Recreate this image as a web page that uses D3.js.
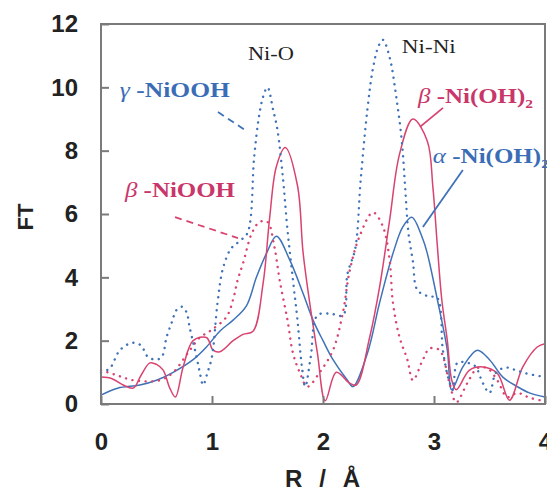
<!DOCTYPE html>
<html>
<head>
<meta charset="utf-8">
<script src="https://d3js.org/d3.v7.min.js"></script>
<style>
  body { margin: 0; background: #fff; }
  .tick text { font-family: "Liberation Sans", Arial, sans-serif; font-weight: bold; font-size: 24px; fill: #222; }
  .lbl { font-family: "Liberation Serif", "Times New Roman", serif; font-weight: bold; font-size: 21px; }
</style>
</head>
<body>
<div id="chart"></div>
<script>
// gamma-NiOOH (blue, dotted)
var gammaR  = [0, 0.08, 0.17, 0.28, 0.36, 0.42, 0.5, 0.55, 0.59, 0.64, 0.68, 0.73, 0.77, 0.8, 0.86, 0.89, 0.92, 0.96, 1.0, 1.05, 1.1, 1.17, 1.25, 1.32, 1.38, 1.42, 1.46, 1.5, 1.55, 1.59, 1.64, 1.68, 1.73, 1.77, 1.81, 1.84, 1.89, 1.95, 2.07, 2.18, 2.22, 2.29, 2.34, 2.4, 2.45, 2.5, 2.54, 2.6, 2.66, 2.71, 2.74, 2.77, 2.81, 2.85, 2.95, 3.03, 3.08, 3.13, 3.17, 3.21, 3.3, 3.37, 3.44, 3.5, 3.56, 3.65, 3.75, 3.85, 4.0];
var gammaFT = [1.0, 1.13, 1.7, 1.93, 1.85, 1.5, 1.4, 1.5, 2.1, 2.6, 2.97, 3.07, 2.9, 2.4, 1.5, 1.0, 0.6, 1.0, 1.5, 3.2, 4.3, 4.9, 5.15, 5.4, 7.8, 9.0, 9.7, 10.0, 9.3, 8.65, 7.1, 5.5, 3.9, 2.65, 1.17, 0.55, 1.5, 2.8, 2.85, 2.8, 4.1, 4.9, 7.1, 9.3, 10.6, 11.3, 11.5, 10.95, 9.7, 8.3, 6.85, 5.4, 4.5, 3.6, 3.4, 3.35, 1.7, 0.8, 0.45, 1.3, 1.3, 1.2, 0.66, 0.35, 1.0, 1.15, 1.05, 0.95, 0.85];

// beta-NiOOH (red, dotted)
var bOOHR  = [0, 0.15, 0.29, 0.53, 0.65, 0.8, 0.89, 0.98, 1.13, 1.19, 1.23, 1.28, 1.36, 1.43, 1.5, 1.56, 1.61, 1.68, 1.73, 1.79, 1.86, 1.97, 2.09, 2.18, 2.24, 2.33, 2.45, 2.54, 2.6, 2.63, 2.69, 2.76, 2.81, 2.9, 2.96, 3.05, 3.14, 3.2, 3.3, 3.39, 3.48, 3.57, 3.66, 3.75, 3.86, 3.98];
var bOOHFT = [1.07, 0.9, 0.75, 0.75, 1.0, 1.7, 2.1, 2.3, 2.75, 3.3, 3.9, 4.45, 5.4, 5.75, 5.75, 5.0, 3.9, 2.65, 1.6, 1.0, 0.55, 1.0, 1.7, 2.9, 4.2, 5.3, 6.05, 5.6, 4.55, 3.2, 2.1, 1.4, 0.75, 1.4, 1.75, 1.7, 0.66, 0.05, 0.66, 1.13, 1.13, 0.75, 0.22, 0.35, 0.2, 0.1];

// beta-Ni(OH)2 (red, solid)
var bOHR  = [0, 0.1, 0.2, 0.29, 0.36, 0.44, 0.5, 0.56, 0.62, 0.67, 0.74, 0.83, 0.95, 1.01, 1.07, 1.19, 1.28, 1.37, 1.46, 1.52, 1.58, 1.66, 1.77, 1.82, 1.88, 1.95, 2.02, 2.12, 2.24, 2.3, 2.42, 2.51, 2.6, 2.69, 2.81, 2.94, 2.99, 3.03, 3.07, 3.12, 3.16, 3.2, 3.32, 3.44, 3.57, 3.68, 3.8, 3.93, 4.0];
var bOHFT = [0.85, 0.8, 0.6, 0.5, 0.9, 1.3, 1.25, 1.07, 0.5, 0.22, 1.17, 2.0, 2.1, 1.7, 1.65, 2.0, 2.2, 2.3, 3.8, 5.9, 7.5, 8.1, 6.9, 4.8, 3.2, 1.6, 0.1, 1.0, 0.66, 0.6, 2.1, 3.7, 5.8, 7.9, 9.0, 8.3, 6.85, 5.0, 3.3, 2.0, 0.75, 0.45, 1.07, 1.17, 0.97, 0.12, 1.17, 1.8, 1.9];

// alpha-Ni(OH)2 (blue, solid)
var aOHR  = [0, 0.15, 0.35, 0.5, 0.65, 0.83, 0.95, 1.07, 1.19, 1.31, 1.4, 1.49, 1.58, 1.7, 1.82, 1.91, 2.0, 2.09, 2.22, 2.27, 2.4, 2.51, 2.63, 2.72, 2.8, 2.9, 2.94, 3.03, 3.12, 3.16, 3.26, 3.39, 3.5, 3.62, 3.75, 3.86, 4.0];
var aOHFT = [0.28, 0.5, 0.6, 0.75, 1.0, 1.4, 1.8, 2.3, 2.65, 3.1, 4.0, 4.75, 5.3, 4.55, 3.5, 2.65, 2.0, 1.4, 0.75, 0.55, 1.6, 3.2, 4.75, 5.6, 5.9, 5.2, 4.75, 3.3, 1.7, 0.45, 1.17, 1.7, 1.4, 0.85, 0.55, 0.35, 0.22];

var xTicks = [0, 1, 2, 3, 4];
var yTicks = [0, 2, 4, 6, 8, 10, 12];

var blue = "#3f72b8", red = "#d8436f", redText = "#c9366a", blueText = "#3a6db5";

var W = 547, H = 492;
var margin = { top: 24, right: 2, bottom: 88, left: 101 };
var width = W - margin.left - margin.right,
    height = H - margin.top - margin.bottom;

var svg = d3.select("#chart").append("svg")
    .attr("width", W).attr("height", H)
    .append("g")
    .attr("transform", `translate(${margin.left},${margin.top})`);

var x = d3.scaleLinear().domain([0, 4]).range([0, 444]);
var y = d3.scaleLinear().domain([0, 12]).range([height, 0]);

var line = d3.line()
    .x(d => x(d[0]))
    .y(d => y(d[1]))
    .curve(d3.curveCatmullRom.alpha(0.5));

function pts(r, f) { return r.map((v, i) => [v, f[i]]); }

// curves
svg.append("path").datum(pts(aOHR, aOHFT)).attr("d", line)
    .attr("fill", "none").attr("stroke", blue).attr("stroke-width", 1.5);
svg.append("path").datum(pts(bOHR, bOHFT)).attr("d", line)
    .attr("fill", "none").attr("stroke", red).attr("stroke-width", 1.5);
svg.append("path").datum(pts(bOOHR, bOOHFT)).attr("d", line)
    .attr("fill", "none").attr("stroke", red).attr("stroke-width", 2.4)
    .attr("stroke-dasharray", "0.1,6.5").attr("stroke-linecap", "round");
svg.append("path").datum(pts(gammaR, gammaFT)).attr("d", line)
    .attr("fill", "none").attr("stroke", blue).attr("stroke-width", 2.4)
    .attr("stroke-dasharray", "0.1,6.5").attr("stroke-linecap", "round");

// frame
svg.append("rect").attr("x", 0).attr("y", 0).attr("width", x(4)).attr("height", height)
    .attr("fill", "none").attr("stroke", "#7a7a7a").attr("stroke-width", 2);

// axes
var yAxis = svg.append("g")
    .call(d3.axisLeft(y).tickValues(yTicks).tickSize(-8).tickPadding(23));
yAxis.select(".domain").remove();
yAxis.selectAll(".tick line").attr("stroke", "#7a7a7a").attr("stroke-width", 2);

var xAxis = svg.append("g").attr("transform", `translate(0,${height})`)
    .call(d3.axisBottom(x).tickValues(xTicks).tickFormat(d3.format("d")).tickSize(-8).tickPadding(29));
xAxis.select(".domain").remove();
xAxis.selectAll(".tick line").attr("stroke", "#7a7a7a").attr("stroke-width", 2);

// axis titles
svg.append("text")
    .attr("transform", `translate(${25 - margin.left},${217 - margin.top}) rotate(-90)`)
    .attr("text-anchor", "middle").attr("dy", "0.35em")
    .style("font-family", "Liberation Sans, Arial, sans-serif").style("font-weight", "bold")
    .style("font-size", "22px").style("fill", "#222")
    .text("FT");
svg.append("text")
    .attr("x", 285 - margin.left).attr("y", 487 - margin.top)
    .style("font-family", "Liberation Sans, Arial, sans-serif").style("font-weight", "bold")
    .style("font-size", "24px").style("fill", "#222")
    .attr("textLength", 75).attr("lengthAdjust", "spacing")
    .attr("xml:space", "preserve")
    .text("R / Å");

// leader lines
var leaders = [
    { a: [1.054, 9.22], b: [1.324, 8.59], c: blue, dash: "7,5" },
    { a: [0.667, 5.9], b: [1.234, 5.24], c: red, dash: "7,5" },
    { a: [2.874, 8.75], b: [3.081, 9.35], c: red, dash: null },
    { a: [2.90, 5.59], b: [3.26, 7.39], c: blue, dash: null }
];
leaders.forEach(function (l) {
    svg.append("line")
        .attr("x1", x(l.a[0])).attr("y1", y(l.a[1]))
        .attr("x2", x(l.b[0])).attr("y2", y(l.b[1]))
        .attr("stroke", l.c).attr("stroke-width", 1.8)
        .attr("stroke-dasharray", l.dash);
});

// labels
function label(r, f, color, greek, rest, sub, len) {
    var t = svg.append("text").attr("class", "lbl")
        .attr("x", x(r)).attr("y", y(f)).style("fill", color)
        .attr("textLength", len).attr("lengthAdjust", "spacingAndGlyphs")
        .attr("xml:space", "preserve");
    if (greek) t.append("tspan").style("font-style", "italic").style("font-weight", "normal").text(greek + " ");
    t.append("tspan").text(rest);
    if (sub) t.append("tspan").attr("dy", 5).style("font-size", "13px").text(sub);
}
label(0.17, 9.69, blueText, "γ", "-NiOOH", null, 110);
label(0.216, 6.54, redText, "β", "-NiOOH", null, 110);
label(2.856, 9.5, redText, "β", "-Ni(OH)", "2", 115);
label(2.99, 7.61, blueText, "α", "-Ni(OH)", "2", 116);

svg.append("text").attr("x", x(1.324)).attr("y", y(10.86))
    .style("font-family", "Liberation Serif, serif").style("font-size", "19px").style("fill", "#222")
    .attr("textLength", 46).attr("lengthAdjust", "spacingAndGlyphs")
    .text("Ni-O");
svg.append("text").attr("x", x(2.71)).attr("y", y(11.08))
    .style("font-family", "Liberation Serif, serif").style("font-size", "19px").style("fill", "#222")
    .attr("textLength", 54).attr("lengthAdjust", "spacingAndGlyphs")
    .text("Ni-Ni");
</script>
</body>
</html>
